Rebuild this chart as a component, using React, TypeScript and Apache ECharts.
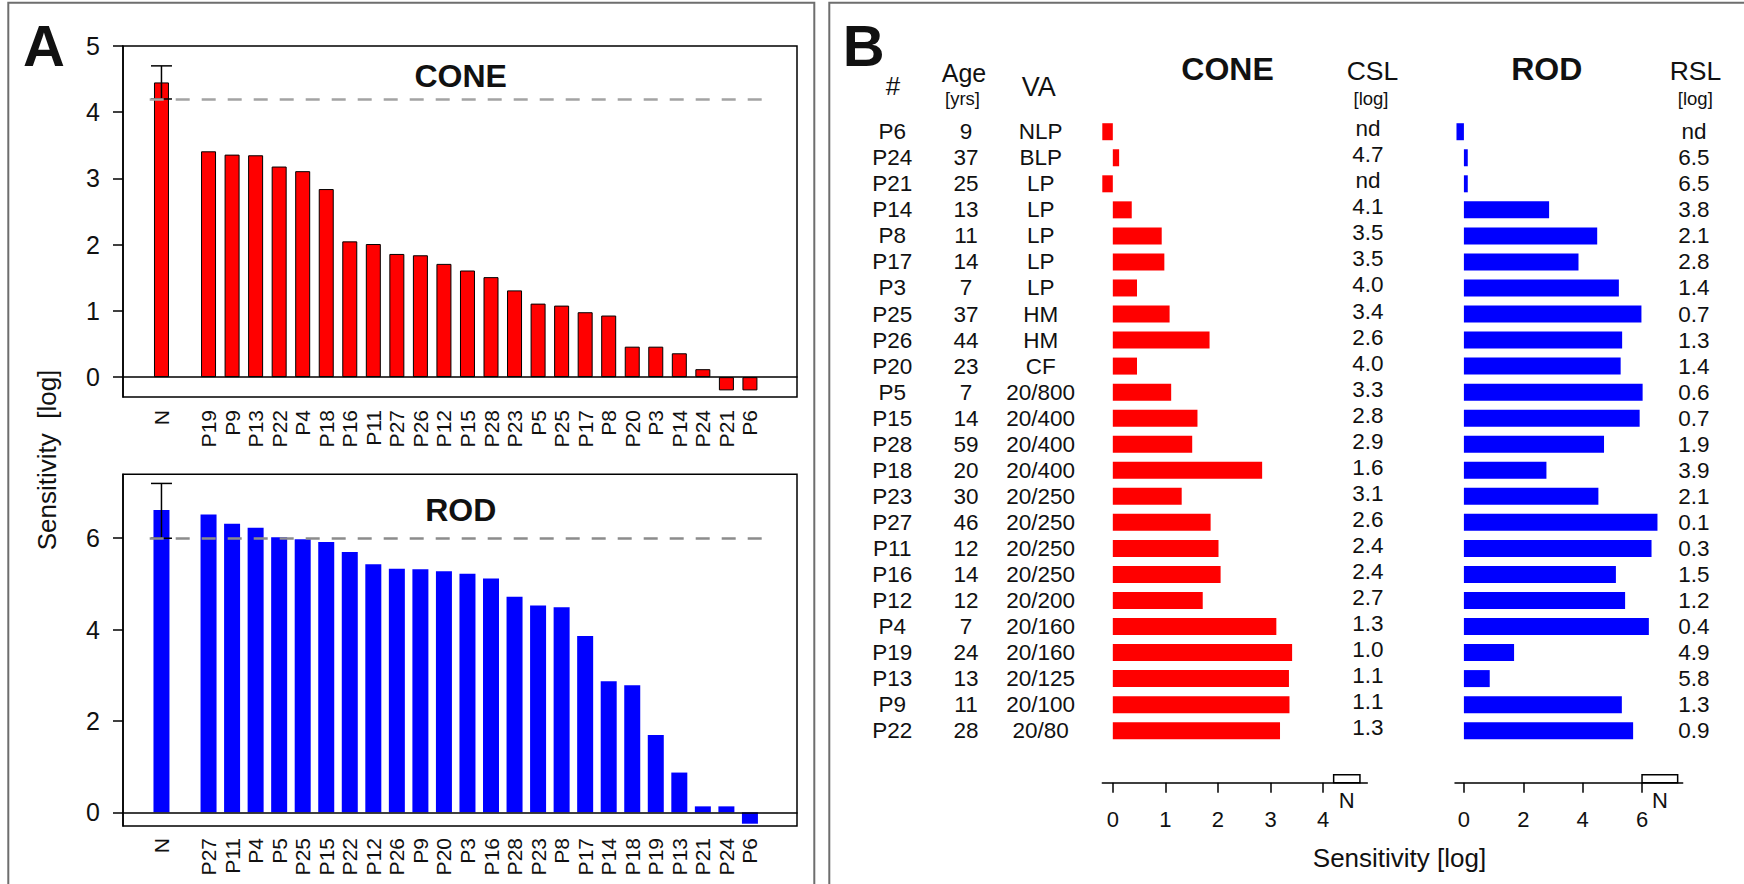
import React, { useEffect, useRef } from "react";
import * as echarts from "echarts";

// ---------- data ----------
const patients = ["P6", "P24", "P21", "P14", "P8", "P17", "P3", "P25", "P26", "P20", "P5", "P15", "P28", "P18", "P23", "P27", "P11", "P16", "P12", "P4", "P19", "P13", "P9", "P22"];
const ages = [9, 37, 25, 13, 11, 14, 7, 37, 44, 23, 7, 14, 59, 20, 30, 46, 12, 14, 12, 7, 24, 13, 11, 28];
const visualAcuity = ["NLP", "BLP", "LP", "LP", "LP", "LP", "LP", "HM", "HM", "CF", "20/800", "20/400", "20/400", "20/400", "20/250", "20/250", "20/250", "20/250", "20/200", "20/160", "20/160", "20/125", "20/100", "20/80"];
const csl = ["nd", "4.7", "nd", "4.1", "3.5", "3.5", "4.0", "3.4", "2.6", "4.0", "3.3", "2.8", "2.9", "1.6", "3.1", "2.6", "2.4", "2.4", "2.7", "1.3", "1.0", "1.1", "1.1", "1.3"];
const rsl = ["nd", "6.5", "6.5", "3.8", "2.1", "2.8", "1.4", "0.7", "1.3", "1.4", "0.6", "0.7", "1.9", "3.9", "2.1", "0.1", "0.3", "1.5", "1.2", "0.4", "4.9", "5.8", "1.3", "0.9"];
const coneSens = [-0.2, 0.12, -0.2, 0.36, 0.93, 0.98, 0.46, 1.08, 1.84, 0.46, 1.11, 1.61, 1.51, 2.84, 1.31, 1.86, 2.01, 2.05, 1.71, 3.11, 3.41, 3.35, 3.36, 3.18];
const rodSens = [-0.25, 0.13, 0.13, 2.87, 4.49, 3.86, 5.22, 5.98, 5.33, 5.28, 6.02, 5.92, 4.72, 2.78, 4.53, 6.52, 6.32, 5.12, 5.43, 6.23, 1.69, 0.87, 5.32, 5.7];

const coneOrder = ["P19", "P9", "P13", "P22", "P4", "P18", "P16", "P11", "P27", "P26", "P12", "P15", "P28", "P23", "P5", "P25", "P17", "P8", "P20", "P3", "P14", "P24", "P21", "P6"];
const rodOrder = ["P27", "P11", "P4", "P5", "P25", "P15", "P22", "P12", "P26", "P9", "P20", "P3", "P16", "P28", "P23", "P8", "P17", "P14", "P18", "P19", "P13", "P21", "P24", "P6"];

const normLabel = "N";
const coneNormal = 4.45;
const coneNormalRange = [4.2, 4.7];
const rodNormal = 6.62;
const rodNormalRange = [6.0, 7.2];

const coneTicksA = [0, 1, 2, 3, 4, 5];
const rodTicksA = [0, 2, 4, 6];
const coneTicksB = [0, 1, 2, 3, 4];
const rodTicksB = [0, 2, 4, 6];

// ---------- styling ----------
const FONT = '"Liberation Sans", Arial, sans-serif';
const RED = "#ff0000";
const BLUE = "#0000ff";
const INK = "#111";

const coneMap: Record<string, number> = {};
const rodMap: Record<string, number> = {};
patients.forEach((p, i) => {
  coneMap[p] = coneSens[i];
  rodMap[p] = rodSens[i];
});
const catsCone = [normLabel, "", ...coneOrder];
const valsCone = [coneNormal, null, ...coneOrder.map((p) => coneMap[p])];
const catsRod = [normLabel, "", ...rodOrder];
const valsRod = [rodNormal, null, ...rodOrder.map((p) => rodMap[p])];

function txt(text: string, x: number, y: number, size: number, extra: any = {}) {
  return {
    type: "text",
    x,
    y,
    silent: true,
    ...extra,
    style: {
      text,
      fill: INK,
      fontSize: size,
      fontFamily: FONT,
      fontWeight: extra.bold ? "bold" : "normal",
      align: "center",
      verticalAlign: "middle",
      textAlign: "center",
      textVerticalAlign: "middle",
    },
  };
}

const errorBar = (params: any, api: any) => {
  const x = api.value(0);
  const lo = api.coord([x, api.value(1)]);
  const hi = api.coord([x, api.value(2)]);
  const hw = 10.5;
  const st = { stroke: "#000", lineWidth: 1.5 };
  return {
    type: "group",
    children: [
      { type: "line", shape: { x1: lo[0], y1: lo[1], x2: hi[0], y2: hi[1] }, style: st },
      { type: "line", shape: { x1: hi[0] - hw, y1: hi[1], x2: hi[0] + hw, y2: hi[1] }, style: st },
      { type: "line", shape: { x1: lo[0] - hw, y1: lo[1], x2: lo[0] + hw, y2: lo[1] }, style: st },
    ],
  };
};

const normBox = (params: any, api: any) => {
  const p0 = api.coord([api.value(0), 0]);
  const p1 = api.coord([api.value(1), 0]);
  const cs = params.coordSys;
  const yl = cs.y + cs.height + 39;
  return {
    type: "group",
    children: [
      {
        type: "rect",
        shape: { x: p0[0], y: yl - 8, width: p1[0] - p0[0], height: 8 },
        style: { fill: "none", stroke: "#000", lineWidth: 1.5 },
      },
      txt(normLabel, (p0[0] + p1[0]) / 2, yl + 18, 22),
    ],
  };
};

const rowTexts = (params: any, api: any) => {
  const i = params.dataIndex;
  const y = api.coord([0, api.value(1)])[1];
  return {
    type: "group",
    children: [
      txt(patients[i], 892.3, y, 22.5),
      txt(String(ages[i]), 966, y, 22.5),
      txt(visualAcuity[i], 1040.7, y, 22.5),
      txt(csl[i], 1368, y - 3, 22.5),
      txt(rsl[i], 1694, y, 22.5),
    ],
  };
};

const catX = (gridIndex: number, data: string[], margin: number) => ({
  type: "category",
  gridIndex,
  data,
  axisLine: { show: false, onZero: false },
  axisTick: { show: false },
  axisLabel: { rotate: 90, interval: 0, fontSize: 21, margin, color: INK, fontFamily: FONT },
});

const frameX = (gridIndex: number) => ({
  type: "value",
  gridIndex,
  min: 0,
  max: 1,
  z: 10,
  axisLine: { show: true, onZero: true, lineStyle: { color: "#000", width: 1.5 } },
  axisTick: { show: false },
  axisLabel: { show: false },
  splitLine: { show: false },
});

const valY = (gridIndex: number, min: number, max: number, ticks: number[]) => ({
  type: "value",
  gridIndex,
  min,
  max,
  offset: 26.7,
  axisLine: { show: true, lineStyle: { color: "#000", width: 1.5 } },
  axisTick: { show: true, customValues: ticks, length: 10, lineStyle: { color: "#000", width: 1.5 } },
  axisLabel: { customValues: ticks, fontSize: 25, margin: 23, color: INK, fontFamily: FONT },
  splitLine: { show: false },
});

const hiddenY = (gridIndex: number, min: number, max: number) => ({
  type: "value",
  gridIndex,
  min,
  max,
  show: false,
  splitLine: { show: false },
});

const valXB = (gridIndex: number, min: number, max: number, ticks: number[]) => ({
  type: "value",
  gridIndex,
  min,
  max,
  offset: 39,
  axisLine: { show: true, onZero: false, lineStyle: { color: "#000", width: 1.5 } },
  axisTick: { show: true, customValues: ticks, length: 10, lineStyle: { color: "#000", width: 1.5 } },
  axisLabel: { customValues: ticks, fontSize: 22, margin: 26, color: INK, fontFamily: FONT },
  splitLine: { show: false },
});

const catYB = (gridIndex: number) => ({
  type: "category",
  gridIndex,
  data: patients,
  inverse: true,
  show: false,
});

const frameGrid = { show: true, borderColor: "#000", borderWidth: 1.5, backgroundColor: "transparent" };

const dashed = (v: number, color: string) => ({
  symbol: "none",
  silent: true,
  label: { show: false },
  lineStyle: { type: [14, 12], color, width: 2.5 },
  data: [{ yAxis: v }],
});

const option: any = {
  animation: false,
  backgroundColor: "#fff",
  textStyle: { fontFamily: FONT },
  grid: [
    { left: 149.7, top: 46, width: 612, height: 351 },
    { left: 123, top: 46, width: 674, height: 351, ...frameGrid },
    { left: 149.7, top: 474.3, width: 612, height: 351.7 },
    { left: 123, top: 474.3, width: 674, height: 351.7, ...frameGrid },
    { left: 1102.3, top: 118.7, width: 265, height: 625 },
    { left: 1455, top: 118.7, width: 227.7, height: 625 },
  ],
  xAxis: [
    catX(0, catsCone, 13),
    frameX(1),
    catX(2, catsRod, 12),
    frameX(3),
    valXB(4, -0.2, 4.84, coneTicksB),
    valXB(5, -0.3, 7.37, rodTicksB),
  ],
  yAxis: [
    valY(0, -0.3, 5, coneTicksA),
    hiddenY(1, -0.3, 5),
    valY(2, -0.3, 7.4, rodTicksA),
    hiddenY(3, -0.3, 7.4),
    catYB(4),
    catYB(5),
  ],
  series: [
    {
      type: "bar",
      xAxisIndex: 0,
      yAxisIndex: 0,
      data: valsCone,
      barWidth: 15,
      itemStyle: { color: RED, borderColor: "#000", borderWidth: 1 },
      markLine: dashed(coneNormalRange[0], "#a3a3a3"),
    },
    {
      type: "custom",
      xAxisIndex: 0,
      yAxisIndex: 0,
      z: 3,
      clip: false,
      encode: { x: 0, y: [1, 2] },
      data: [[normLabel, coneNormalRange[0], coneNormalRange[1]]],
      renderItem: errorBar,
    },
    {
      type: "bar",
      xAxisIndex: 2,
      yAxisIndex: 2,
      data: valsRod,
      barWidth: 16,
      itemStyle: { color: BLUE },
      markLine: dashed(rodNormalRange[0], "#8c8c8c"),
    },
    {
      type: "custom",
      xAxisIndex: 2,
      yAxisIndex: 2,
      z: 3,
      clip: false,
      encode: { x: 0, y: [1, 2] },
      data: [[normLabel, rodNormalRange[0], rodNormalRange[1]]],
      renderItem: errorBar,
    },
    {
      type: "bar",
      xAxisIndex: 4,
      yAxisIndex: 4,
      data: coneSens,
      barWidth: 17,
      itemStyle: { color: RED },
    },
    {
      type: "bar",
      xAxisIndex: 5,
      yAxisIndex: 5,
      data: rodSens,
      barWidth: 17,
      itemStyle: { color: BLUE },
    },
    {
      type: "custom",
      xAxisIndex: 4,
      yAxisIndex: 4,
      clip: false,
      encode: { x: [0, 1], y: 2 },
      data: [[coneNormalRange[0], coneNormalRange[1], 0]],
      renderItem: normBox,
    },
    {
      type: "custom",
      xAxisIndex: 5,
      yAxisIndex: 5,
      clip: false,
      encode: { x: [0, 1], y: 2 },
      data: [[rodNormalRange[0], rodNormalRange[1], 0]],
      renderItem: normBox,
    },
    {
      type: "custom",
      xAxisIndex: 4,
      yAxisIndex: 4,
      clip: false,
      encode: { x: 0, y: 1 },
      data: patients.map((p) => [0, p]),
      renderItem: rowTexts,
    },
  ],
  graphic: [
    { type: "rect", silent: true, shape: { x: 8.3, y: 2.7, width: 806, height: 950 }, style: { fill: "none", stroke: "#6e6e6e", lineWidth: 2 } },
    { type: "rect", silent: true, shape: { x: 829.3, y: 2.7, width: 1000, height: 950 }, style: { fill: "none", stroke: "#6e6e6e", lineWidth: 2 } },
    txt("A", 44, 45, 58, { bold: true }),
    txt("B", 863.7, 45, 58, { bold: true }),
    txt("CONE", 460.7, 75.5, 32, { bold: true }),
    txt("ROD", 460.8, 509.5, 32, { bold: true }),
    txt("Sensitivity  [log]", 46.7, 460, 26, { rotation: Math.PI / 2 }),
    txt("#", 893, 86, 26),
    txt("Age", 964, 72.5, 25),
    txt("[yrs]", 962.5, 98, 18.5),
    txt("VA", 1038.7, 86.5, 27),
    txt("CONE", 1227.5, 68.5, 32, { bold: true }),
    txt("CSL", 1372.5, 70.5, 26.5),
    txt("[log]", 1371, 98, 18.5),
    txt("ROD", 1546.7, 68.5, 32, { bold: true }),
    txt("RSL", 1695.5, 70.8, 26.5),
    txt("[log]", 1695.3, 98, 18.5),
    txt("Sensitivity [log]", 1399.5, 858, 26),
  ],
};

export default function App() {
  const ref = useRef<HTMLDivElement>(null);
  useEffect(() => {
    const chart = echarts.init(ref.current as HTMLDivElement, null, { renderer: "svg" });
    chart.setOption(option);
    return () => chart.dispose();
  }, []);
  return (
    <div
      ref={ref}
      style={{ position: "fixed", left: 0, top: 0, width: 1744, height: 884, background: "#fff" }}
    />
  );
}
